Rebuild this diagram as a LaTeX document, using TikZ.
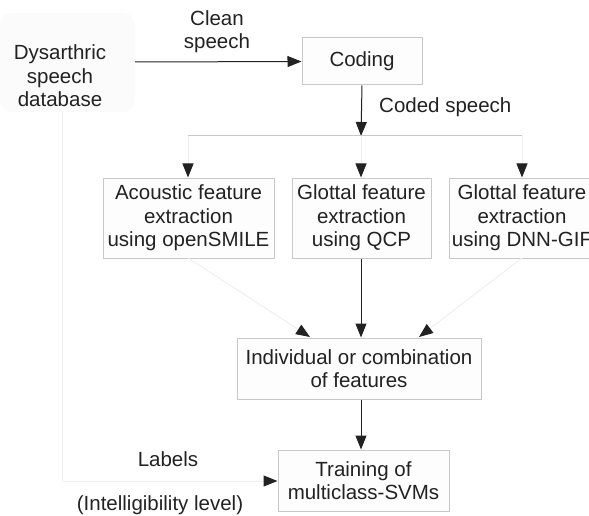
\documentclass[tikz,border=0pt]{standalone}
\usepackage{fontspec}
\setmainfont{Liberation Sans}
\usetikzlibrary{arrows.meta}
\definecolor{ink}{HTML}{222222}
\definecolor{boxline}{HTML}{C8C8C8}
\definecolor{faint}{HTML}{EFEFEF}
\definecolor{boxfill}{HTML}{FDFDFD}
\definecolor{dbfill}{HTML}{FBFBFB}
\begin{document}
\begin{tikzpicture}[x=1pt,y=-1pt,
  font=\fontsize{20.5}{23.5}\selectfont,
  every node/.style={text=ink},
  box/.style={draw=boxline, fill=boxfill, line width=1pt, align=center, inner sep=0pt},
  lbl/.style={align=center, inner sep=0pt},
  tip/.style={-{Triangle[length=14pt,width=11pt,color=ink]}},
  dark/.style={draw=ink, line width=1pt},
  light/.style={draw=faint, line width=1pt}]
\useasboundingbox (0,0) rectangle (589,516);
\clip (0,0) rectangle (589,516);
% database background
\fill[dbfill, rounded corners=12pt] (0,13) rectangle (135,112);
\node[lbl] (db) at (60,76) {Dysarthric\\speech\\database};
\coordinate (dbout) at (135,62);
\coordinate (dbdown) at (62,112);
\coordinate (dbcorner) at (62,481);
% boxes
\node[box, minimum width=120pt, minimum height=47pt] (coding) at (362,61.5) {\raisebox{-2pt}{Coding}};
\node[box, minimum width=171pt, minimum height=80pt] (acou) at (188.5,218) {Acoustic feature\\extraction\\using openSMILE};
\node[box, minimum width=139pt, minimum height=80pt] (qcp) at (361.5,218) {Glottal feature\\extraction\\using QCP};
\node[box, minimum width=146pt, minimum height=80pt] (dnn) at (522,218) {Glottal feature\\extraction\\using DNN-GIF};
\node[box, minimum width=244pt, minimum height=61pt] (comb) at (359,368.5) {Individual or combination\\of features};
\node[box, minimum width=171pt, minimum height=61pt] (train) at (363.5,480.5) {Training of\\multiclass-SVMs};
% labels
\node[lbl] (clean) at (217,31.5) {Clean\\speech};
\node[lbl, anchor=west] (coded) at (379,107) {Coded speech};
\node[lbl] (labels) at (168,459) {Labels};
\node[lbl] (intel) at (160,505) {(Intelligibility level)};
% branch coordinates
\coordinate (br) at (361,136);
\coordinate (brl) at (188,136);
\coordinate (brr) at (522,136);
% connectors
\draw[dark, tip] (dbout) -- (coding.west);
\draw[dark, tip] (coding.south) -- (br);
\draw[draw=boxline, line width=1pt] (brl) -- (brr);
\draw[light, tip] (brl) -- (brl |- acou.north);
\draw[light, tip] (br) -- (br |- qcp.north);
\draw[light, tip] (brr) -- (brr |- dnn.north);
\draw[dark, tip] (qcp.south -| br) -- (br |- comb.north);
\coordinate (accent) at (188,258);
\coordinate (dncent) at (522,258);
\draw[light, tip] (accent) -- (310,337);
\draw[light, tip] (dncent) -- (419,337);
\draw[dark, tip] (br |- comb.south) -- (br |- train.north);
\draw[light, tip] (dbdown) -- (dbcorner) -- (train.west |- dbcorner);
\end{tikzpicture}
\end{document}
